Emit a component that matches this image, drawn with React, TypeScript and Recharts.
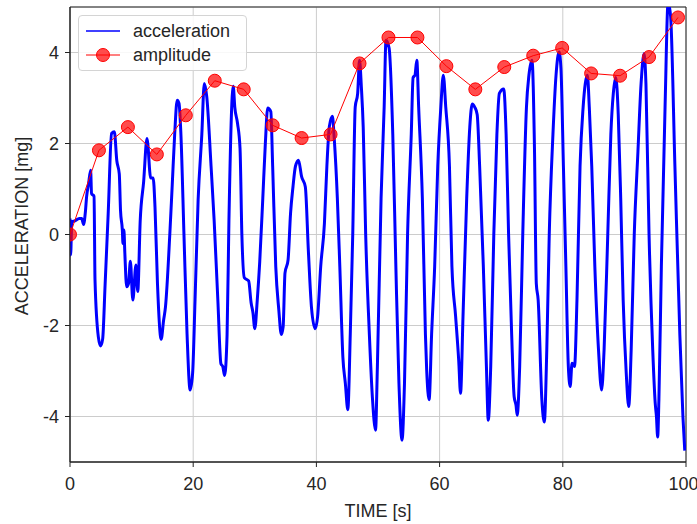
import React from 'react';
import { LineChart, Line, XAxis, YAxis, CartesianGrid, Legend, ReferenceArea } from 'recharts';

// acceleration trace as [time s, mg]
const accTime = [
  0, 0.1, 0.3, 0.8, 1.5, 1.9, 2.2, 2.5, 2.7, 3.0, 3.35, 3.5, 3.9, 4.06, 4.6, 4.97, 5.3, 5.7, 6.2, 6.75,
  7.2, 7.6, 8.0, 8.2, 8.5, 8.6, 8.75, 8.9, 9.2, 9.5, 9.8, 10.2, 10.7, 11.0, 11.4, 11.96, 12.5, 13.1, 13.5, 13.8,
  14.2, 14.8, 15.2, 15.5, 16.2, 16.6, 17.0, 17.4, 17.7, 18.0, 18.5, 19.0, 19.5, 19.9, 20.3, 20.8, 21.4, 21.8, 22.2, 22.9,
  23.4, 24.0, 24.5, 24.8, 25.1, 25.5, 25.8, 26.5, 26.75, 27.2, 27.6, 27.9, 28.3, 29.0, 29.4, 29.7, 30.0, 30.4, 30.8, 31.3,
  31.7, 32.1, 32.6, 32.9, 33.4, 33.9, 34.3, 34.6, 34.9, 35.4, 35.8, 36.2, 36.6, 37.1, 37.6, 38.2, 38.7, 39.2, 39.8, 40.2,
  40.7, 41.3, 41.7, 42.1, 42.6, 42.9, 43.4, 43.8, 44.3, 44.7, 45.1, 45.5, 45.9, 46.3, 46.7, 47.0, 47.3, 47.6, 48.0, 48.6,
  49.1, 49.6, 49.9, 50.5, 51.0, 51.3, 51.8, 52.4, 52.9, 53.4, 53.9, 54.3, 54.8, 55.4, 55.7, 56.0, 56.3, 56.6, 57.2, 57.7,
  57.9, 58.3, 58.7, 59.2, 59.7, 60.2, 60.6, 61.0, 61.6, 62.0, 62.6, 63.1, 63.4, 63.8, 64.4, 64.9, 65.3, 65.7, 66.1, 66.5,
  67.1, 67.6, 67.9, 68.3, 68.8, 69.3, 69.7, 70.4, 70.8, 71.2, 71.7, 72.1, 72.4, 72.6, 73.0, 73.5, 74.1, 74.5, 75.0, 75.4,
  75.7, 76.0, 76.6, 77.0, 77.4, 77.8, 78.4, 78.9, 79.4, 79.7, 80.1, 80.5, 80.9, 81.2, 81.5, 81.9, 82.3, 82.8, 83.3, 84.0,
  84.3, 84.7, 85.2, 85.8, 86.3, 86.7, 87.3, 87.8, 88.2, 88.6, 89.0, 89.4, 89.8, 90.3, 90.7, 91.1, 91.6, 92.2, 92.7, 93.2,
  93.5, 94.0, 94.6, 95.0, 95.2, 95.4, 95.6, 96.0, 96.6, 97.1, 97.5, 98.2, 99.0, 99.5, 99.8,
];
const accValue = [
  0.35, -0.45, 0.28, 0.3, 0.35, 0.35, 0.22, 0.5, 0.84, 1.1, 1.41, 0.9, 0.84, -1.0, -2.25, -2.45, -2.3, -1.1, 0.46, 2.22,
  2.26, 1.62, 1.33, 0.53, 0.09, -0.2, 0.1, -0.4, -1.15, -1.08, -0.59, -1.44, -0.67, -1.25, 0.31, 1.17, 2.11, 1.24, 1.24, 0.6,
  -1.08, -2.3, -1.88, -1.59, 0.0, 1.1, 2.22, 2.95, 2.88, 2.22, 0.0, -2.18, -3.42, -3.06, -1.44, 0.76, 2.2, 3.32, 3.03, 1.5,
  0.31, -1.44, -2.84, -2.9, -3.1, -2.2, 0.3, 3.26, 2.8, 2.44, 1.9, 0.0, -0.95, -1.02, -1.5, -1.72, -2.07, -1.44, -0.6, 0.8,
  1.97, 2.78, 2.7, 1.5, -0.7, -1.66, -2.2, -2.03, -0.85, -0.56, 0.46, 1.05, 1.5, 1.63, 1.27, 1.05, -0.37, -1.6, -2.07, -1.8,
  -0.7, 0.24, 1.5, 2.37, 2.6, 2.1, 0.8, -0.7, -2.7, -3.27, -3.85, -2.18, 0.0, 2.8, 3.1, 3.83, 3.24, 2.36, 0.0, -2.2,
  -3.6, -4.3, -2.9, 0.8, 2.8, 4.27, 4.1, 2.2, -0.7, -3.27, -4.52, -3.27, 0.0, 2.2, 3.45, 3.5, 3.83, 2.8, 0.8, -2.2,
  -2.97, -3.63, -2.2, -0.7, 1.5, 2.8, 3.5, 2.8, 1.5, -0.7, -1.8, -2.76, -3.49, -1.8, 0.8, 2.36, 2.87, 2.8, 2.64, 1.5,
  -0.7, -2.9, -4.08, -2.9, 0.0, 2.2, 3.1, 3.2, 2.2, 0.0, -2.2, -3.56, -3.75, -3.97, -2.9, 0.0, 2.8, 3.5, 3.83, 1.9,
  -1.08, -1.44, -3.63, -4.12, -2.54, 0.0, 2.2, 3.5, 4.01, 3.65, 1.5, -0.7, -2.9, -3.34, -2.83, -2.9, -1.44, 1.5, 2.8, 3.5,
  2.8, 1.5, -0.7, -2.54, -3.42, -2.54, 0.0, 2.2, 3.1, 3.45, 2.64, 0.8, -1.44, -3.05, -3.78, -2.54, 0.0, 1.83, 3.3, 3.98,
  3.3, 0.0, -2.54, -3.7, -4.0, -4.45, -3.63, -0.7, 2.8, 5.1, 4.8, 1.5, -2.2, -4.0, -4.75,
];

// amplitude envelope points
const ampTime = [0, 4.7, 9.4, 14.1, 18.8, 23.5, 28.2, 32.9, 37.6, 42.3, 47.0, 51.7, 56.4, 61.1, 65.8, 70.5, 75.2, 79.9, 84.6, 89.3, 94.0, 98.7];
const ampValue = [0, 1.85, 2.36, 1.76, 2.62, 3.38, 3.19, 2.4, 2.12, 2.2, 3.76, 4.33, 4.33, 3.7, 3.19, 3.68, 3.93, 4.1, 3.54, 3.49, 3.9, 4.77];

const xTicks = [0, 20, 40, 60, 80, 100];
const yTicks = [-4, -2, 0, 2, 4];

const accData = accTime.map((t, i) => ({ t, acc: accValue[i] }));
const ampData = ampTime.map((t, i) => ({ t, amp: ampValue[i] }));

const FONT = '"Liberation Sans", Arial, sans-serif';
const INK = '#262626';
const SPINE = '#222';

function LegendBox() {
  const rows = [
    { label: 'acceleration', color: '#0000ff', marker: false },
    { label: 'amplitude', color: '#ff0000', marker: true },
  ];
  return (
    <div
      style={{
        width: 167,
        height: 54,
        border: '1px solid #d4d4d4',
        borderRadius: 4,
        background: 'rgba(255,255,255,0.85)',
        fontFamily: FONT,
        fontSize: 18,
        color: INK,
        position: 'relative',
      }}
    >
      {rows.map((r, i) => (
        <div key={r.label} style={{ position: 'absolute', left: 0, top: 3 + i * 24, height: 24, display: 'flex', alignItems: 'center' }}>
          <svg width={50} height={24} style={{ display: 'block' }}>
            <line x1={7} x2={41} y1={12} y2={12} stroke={r.color} strokeWidth={r.marker ? 1 : 1.5} />
            {r.marker && <circle cx={24} cy={12} r={6.5} fill="rgba(255,0,0,0.7)" stroke="#ff0000" />}
          </svg>
          <span style={{ marginLeft: 4, lineHeight: '24px' }}>{r.label}</span>
        </div>
      ))}
    </div>
  );
}

function YLabel() {
  return (
    <text
      x={22}
      y={226}
      transform="rotate(-90 22 226)"
      textAnchor="middle"
      dominantBaseline="central"
      fill={INK}
      fontSize={18}
      fontFamily={FONT}
    >
      ACCELERATION [mg]
    </text>
  );
}

export default function App() {
  return (
    <div style={{ position: 'absolute', left: 0, top: 0, width: 697, height: 524, background: '#fff' }}>
      <LineChart width={697} height={524} margin={{ top: 7, right: 11, left: 0, bottom: 0 }} style={{ fontFamily: FONT }}>
        <CartesianGrid stroke="#cccccc" strokeWidth={1} />
        <XAxis
          dataKey="t"
          type="number"
          domain={[0, 100]}
          ticks={xTicks}
          allowDataOverflow
          height={62}
          tickSize={5}
          tickMargin={10}
          axisLine={{ stroke: SPINE }}
          tickLine={{ stroke: SPINE }}
          tick={{ fill: INK, fontSize: 18, fontFamily: FONT }}
          label={{ value: 'TIME [s]', position: 'insideBottom', offset: 7, fill: INK, fontSize: 18, fontFamily: FONT }}
        />
        <YAxis
          type="number"
          domain={[-5, 5]}
          ticks={yTicks}
          allowDataOverflow
          width={70}
          tickSize={5}
          tickMargin={6}
          axisLine={{ stroke: SPINE }}
          tickLine={{ stroke: SPINE }}
          tick={{ fill: INK, fontSize: 18, fontFamily: FONT }}
          label={<YLabel />}
        />
        <ReferenceArea x1={0} x2={100} y1={-5} y2={5} fill="none" stroke={SPINE} strokeWidth={1} />
        <Line
          data={accData}
          dataKey="acc"
          name="acceleration"
          type="monotone"
          stroke="#0000ff"
          strokeWidth={3}
          dot={false}
          isAnimationActive={false}
        />
        <Line
          data={ampData}
          dataKey="amp"
          name="amplitude"
          type="linear"
          stroke="#ff0000"
          strokeWidth={1}
          dot={{ r: 6.5, fill: 'rgba(255,0,0,0.7)', stroke: '#ff0000', strokeWidth: 1 }}
          isAnimationActive={false}
        />
        <Legend
          layout="vertical"
          align="center"
          verticalAlign="middle"
          content={() => <LegendBox />}
          wrapperStyle={{ left: 78, top: 15, width: 169, height: 56 }}
        />
      </LineChart>
    </div>
  );
}
